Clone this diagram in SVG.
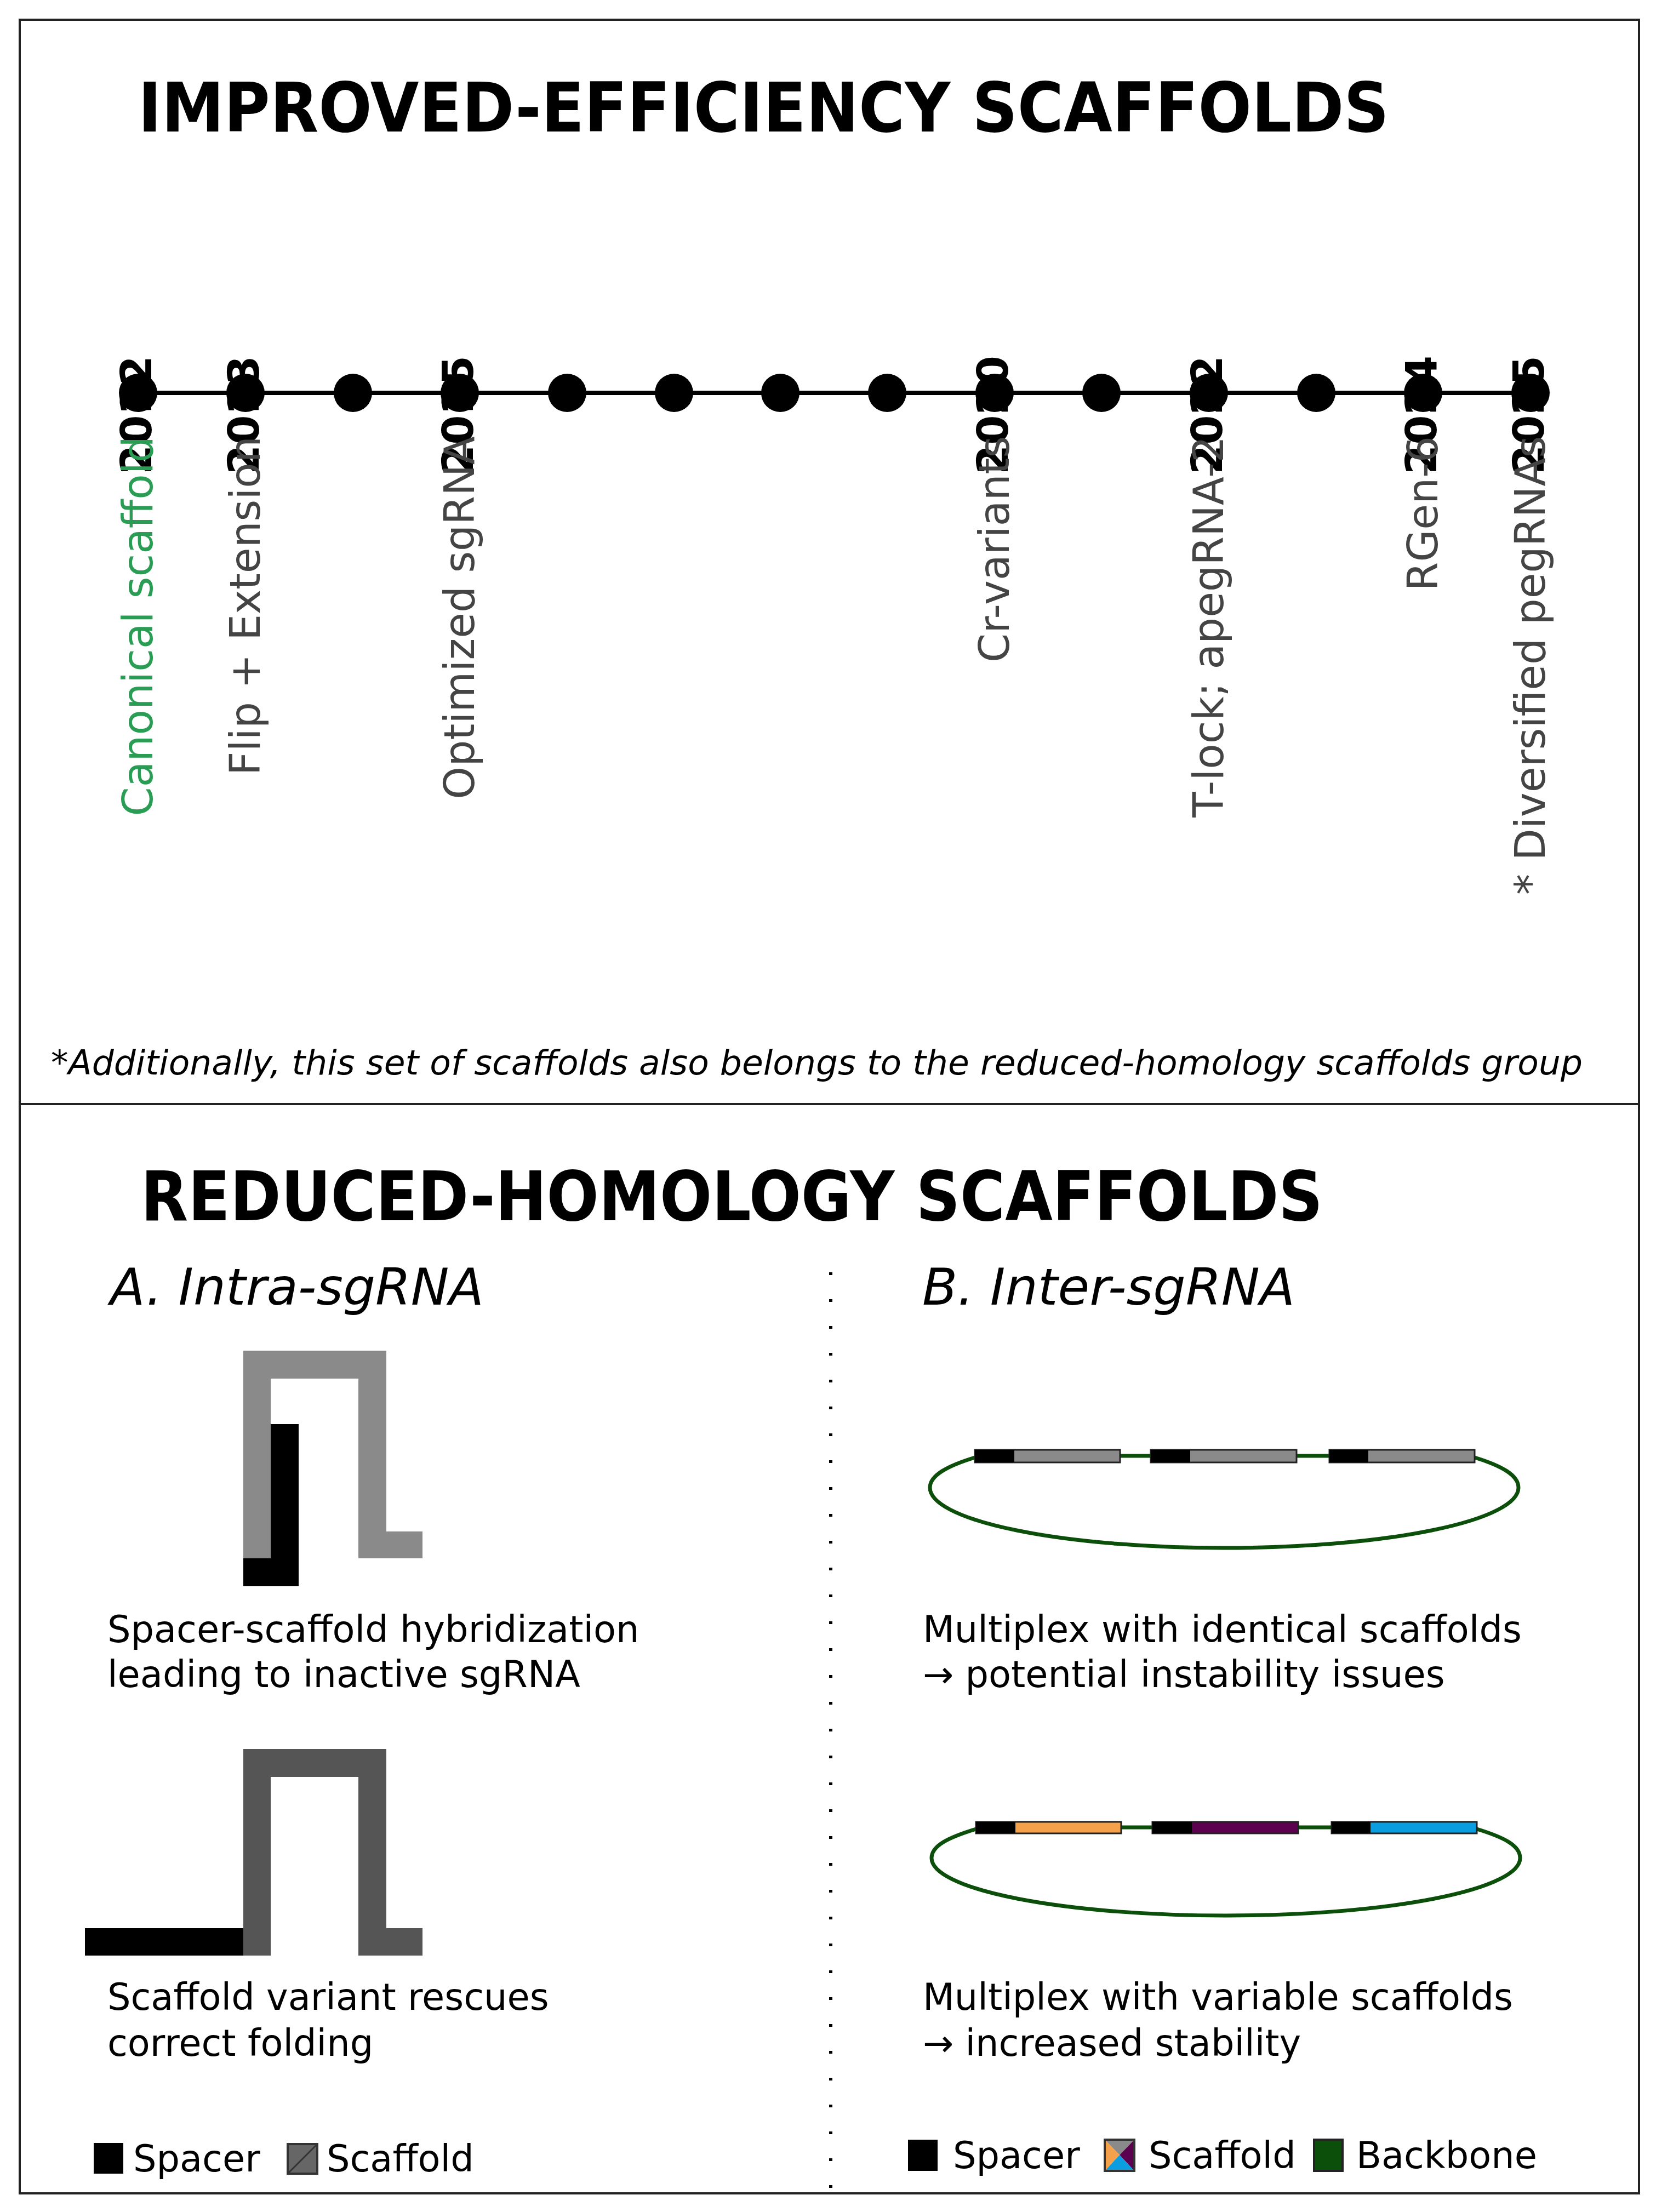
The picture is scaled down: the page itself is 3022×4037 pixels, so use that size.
<svg xmlns="http://www.w3.org/2000/svg" width="3022" height="4037" viewBox="0 0 3022 4037">
<style>
.t{font-family:"DejaVu Sans",Verdana,sans-serif}
.title{font-family:"DejaVu Sans",sans-serif;font-weight:bold;font-size:124px;fill:#000}
.yr{font-family:"DejaVu Sans",sans-serif;font-weight:bold;font-size:78px;fill:#000;text-anchor:end}
.lab{font-family:"DejaVu Sans",sans-serif;font-size:76px;fill:#444;text-anchor:end}
.body{font-family:"DejaVu Sans",sans-serif;font-size:67px;fill:#000}
.sub{font-family:"DejaVu Sans",sans-serif;font-style:italic;font-size:92px;fill:#000}
.box{stroke:#222;stroke-width:3}
.bb{fill:none;stroke:#0b4f0b;stroke-width:7}
</style>
<rect width="3022" height="4037" fill="#fff"/>
<rect x="36" y="36" width="2955" height="3967" fill="none" stroke="#222" stroke-width="4"/>
<line x1="36" y1="2015" x2="2991" y2="2015" stroke="#222" stroke-width="4"/>

<text class="title" x="252" y="240" textLength="2283" lengthAdjust="spacingAndGlyphs">IMPROVED-EFFICIENCY SCAFFOLDS</text>

<g id="timeline">
<line x1="252" y1="717" x2="2793" y2="717" stroke="#000" stroke-width="8"/>
<g fill="#000">
<circle cx="252" cy="717" r="35"/><circle cx="448" cy="717" r="35"/><circle cx="644" cy="717" r="35"/><circle cx="839" cy="717" r="35"/><circle cx="1035" cy="717" r="35"/><circle cx="1230" cy="717" r="35"/><circle cx="1424" cy="717" r="35"/><circle cx="1619" cy="717" r="35"/><circle cx="1815" cy="717" r="35"/><circle cx="2010" cy="717" r="35"/><circle cx="2206" cy="717" r="35"/><circle cx="2402" cy="717" r="35"/><circle cx="2597" cy="717" r="35"/><circle cx="2793" cy="717" r="35"/>
</g>
</g>
<g id="years">
<text class="yr" transform="translate(276,649) rotate(-90)">2012</text>
<text class="yr" transform="translate(472,649) rotate(-90)">2013</text>
<text class="yr" transform="translate(863,649) rotate(-90)">2015</text>
<text class="yr" transform="translate(1839,649) rotate(-90)">2020</text>
<text class="yr" transform="translate(2230,649) rotate(-90)">2022</text>
<text class="yr" transform="translate(2621,649) rotate(-90)">2024</text>
<text class="yr" transform="translate(2817,649) rotate(-90)">2025</text>
</g>
<g id="labels">
<text class="lab" style="fill:#2a9d55" transform="translate(278,796) rotate(-90)">Canonical scaffold</text>
<text class="lab" transform="translate(474,796) rotate(-90)">Flip + Extension</text>
<text class="lab" transform="translate(865,796) rotate(-90)">Optimized sgRNA</text>
<text class="lab" transform="translate(1841,796) rotate(-90)">Cr-variants</text>
<text class="lab" transform="translate(2232,796) rotate(-90)">T-lock; apegRNA-2</text>
<text class="lab" transform="translate(2623,796) rotate(-90)">RGen-6</text>
<text class="lab" transform="translate(2819,796) rotate(-90)">* Diversified pegRNAs</text>
</g>
<text class="t" x="93" y="1961" font-size="62" font-style="italic" textLength="2795" lengthAdjust="spacingAndGlyphs">*Additionally, this set of scaffolds also belongs to the reduced-homology scaffolds group</text>

<text class="title" x="257" y="2227" textLength="2157" lengthAdjust="spacingAndGlyphs">REDUCED-HOMOLOGY SCAFFOLDS</text>
<text class="sub" x="201" y="2381" textLength="682" lengthAdjust="spacingAndGlyphs">A. Intra-sgRNA</text>
<text class="sub" x="1683" y="2381" textLength="680" lengthAdjust="spacingAndGlyphs">B. Inter-sgRNA</text>
<line x1="1516" y1="2322" x2="1516" y2="3995" stroke="#000" stroke-width="6" stroke-dasharray="5 44"/>

<g id="intra1">
<path d="M444,2465 H705 V2795 H771 V2844 H654 V2516 H494 V2844 H444 Z" fill="#8a8a8a"/>
<path d="M494,2599 H545 V2895 H444 V2844 H494 Z" fill="#000"/>
</g>
<text class="body" x="196" y="2997">Spacer-scaffold hybridization</text>
<text class="body" x="196" y="3079">leading to inactive sgRNA</text>

<g id="intra2">
<path d="M444,3192 H705 V3519 H771 V3569 H654 V3243 H494 V3569 H444 Z" fill="#555"/>
<rect x="155" y="3519" width="289" height="50" fill="#000"/>
</g>
<text class="body" x="196" y="3668">Scaffold variant rescues</text>
<text class="body" x="196" y="3752">correct folding</text>

<g id="legendA">
<rect x="171" y="3911" width="54" height="56" fill="#000"/>
<text class="body" x="243" y="3963">Spacer</text>
<rect x="525" y="3913" width="54" height="54" fill="#666" stroke="#333" stroke-width="4"/>
<line x1="527" y1="3965" x2="577" y2="3915" stroke="#333" stroke-width="3"/>
<text class="body" x="596" y="3963">Scaffold</text>
</g>

<g id="plasmid1">
<line x1="1779" y1="2657" x2="2691" y2="2657" stroke="#0b4f0b" stroke-width="7"/>
<path class="bb" d="M1779,2660 C1730,2675 1697,2692 1697,2715 A537,110 0 0 0 2771,2715 C2771,2692 2740,2675 2691,2660"/>
<rect class="box" x="1779" y="2646" width="265" height="23" fill="#8a8a8a"/><rect x="1779" y="2646" width="72" height="23" fill="#000"/>
<rect class="box" x="2100" y="2646" width="266" height="23" fill="#8a8a8a"/><rect x="2100" y="2646" width="72" height="23" fill="#000"/>
<rect class="box" x="2426" y="2646" width="265" height="23" fill="#8a8a8a"/><rect x="2426" y="2646" width="71" height="23" fill="#000"/>
</g>
<text class="body" x="1684" y="2997">Multiplex with identical scaffolds</text>
<text class="body" x="1684" y="3079">→ potential instability issues</text>

<g id="plasmid2">
<line x1="1781" y1="3335" x2="2695" y2="3335" stroke="#0b4f0b" stroke-width="7"/>
<path class="bb" d="M1781,3338 C1732,3353 1700,3368 1700,3391 A537,105 0 0 0 2774,3391 C2774,3368 2744,3353 2695,3338"/>
<rect class="box" x="1781" y="3325" width="265" height="21" fill="#f5a04a"/><rect x="1781" y="3325" width="72" height="21" fill="#000"/>
<rect class="box" x="2103" y="3325" width="266" height="21" fill="#5c0050"/><rect x="2103" y="3325" width="72" height="21" fill="#000"/>
<rect class="box" x="2430" y="3325" width="265" height="21" fill="#0a9ee0"/><rect x="2430" y="3325" width="71" height="21" fill="#000"/>
</g>
<text class="body" x="1684" y="3668">Multiplex with variable scaffolds</text>
<text class="body" x="1684" y="3752">→ increased stability</text>

<g id="legendB">
<rect x="1657" y="3905" width="54" height="57" fill="#000"/>
<text class="body" x="1739" y="3957">Spacer</text>
<polygon points="2016,3905 2070,3905 2043,3933" fill="#8a8a8a"/>
<polygon points="2016,3905 2043,3933 2016,3962" fill="#f5a04a"/>
<polygon points="2070,3905 2070,3962 2043,3933" fill="#5c0050"/>
<polygon points="2016,3962 2043,3933 2070,3962" fill="#0a9ee0"/>
<rect x="2016" y="3905" width="54" height="57" fill="none" stroke="#333" stroke-width="4"/>
<text class="body" x="2096" y="3957">Scaffold</text>
<rect x="2398" y="3905" width="52" height="57" fill="#0b4f0b" stroke="#222" stroke-width="4"/>
<text class="body" x="2475" y="3957">Backbone</text>
</g>
</svg>
